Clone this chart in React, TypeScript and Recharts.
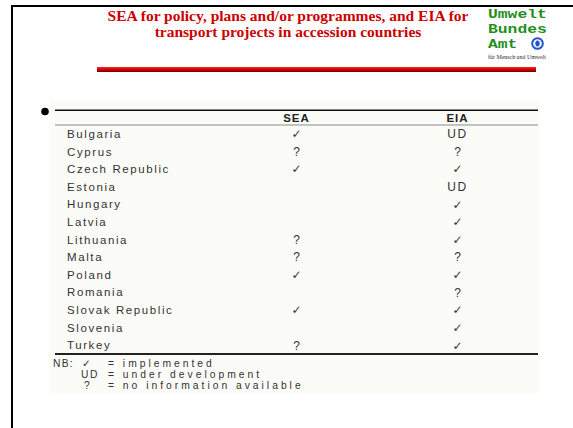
import React from "react";
import { ScatterChart, Scatter, XAxis, YAxis } from "recharts";

const titleLines = [
  "SEA for policy, plans and/or programmes, and EIA for",
  "transport projects in accession countries",
];
const logoLines = ["Umwelt", "Bundes", "Amt"];
const logoTagline = "für Mensch und Umwelt";

const columns = ["", "SEA", "EIA"];
const countries = [
  "Bulgaria",
  "Cyprus",
  "Czech Republic",
  "Estonia",
  "Hungary",
  "Latvia",
  "Lithuania",
  "Malta",
  "Poland",
  "Romania",
  "Slovak Republic",
  "Slovenia",
  "Turkey",
];
const seaStatus = ["✓", "?", "✓", "", "", "", "?", "?", "✓", "", "✓", "", "?"];
const eiaStatus = ["UD", "?", "✓", "UD", "✓", "✓", "✓", "?", "✓", "?", "✓", "✓", "✓"];

const legendSymbols = ["✓", "UD", "?"];
const legendMeanings = ["= implemented", "= under development", "= no information available"];

const SANS = '"Liberation Sans", Arial, sans-serif';
const TEXT = "#333";

const toPoints = (status: string[], col: number) =>
  status.map((mark, row) => ({ col, row, mark })).filter((p) => p.mark !== "");

const seaPoints = toPoints(seaStatus, 1);
const eiaPoints = toPoints(eiaStatus, 2);

function MarkShape(props: any) {
  const { cx, cy, payload } = props;
  const isCheck = payload.mark === "✓";
  return (
    <text
      x={cx}
      y={cy}
      dy="0.36em"
      textAnchor="middle"
      fontFamily={isCheck ? '"DejaVu Sans", sans-serif' : SANS}
      fontSize={12}
      fill={TEXT}
      letterSpacing={payload.mark === "UD" ? 1.5 : 0}
    >
      {payload.mark}
    </text>
  );
}

function Backdrop() {
  return (
    <svg width={573} height={428} style={{ position: "absolute", left: 0, top: 0 }}>
      <defs>
        <linearGradient id="redbar" x1="0" y1="0" x2="0" y2="1">
          <stop offset="0" stopColor="#ff2a2a" />
          <stop offset="0.5" stopColor="#d40000" />
          <stop offset="1" stopColor="#6e0000" />
        </linearGradient>
      </defs>
      <rect x={50} y={100} width={490} height={293} fill="#fbfcf8" />
      {/* slide frame */}
      <rect x={11} y={5} width={562} height={2} fill="#000" />
      <rect x={11} y={5} width={2} height={423} fill="#000" />

      {titleLines.map((t, i) => (
        <text
          key={t}
          x={288}
          y={21 + i * 16}
          textAnchor="middle"
          fontFamily='"Liberation Serif", "Times New Roman", serif'
          fontWeight={700}
          fontSize={15.5}
          fill="#cc0000"
        >
          {t}
        </text>
      ))}

      {logoLines.map((t, i) => (
        <text
          key={t}
          x={488}
          y={18 + i * 15.2}
          fontFamily='"Liberation Mono", "Courier New", monospace'
          fontSize={13.5}
          fontWeight={700}
          fill="#1f8f1f"
          textLength={t.length * 9.8}
          lengthAdjust="spacingAndGlyphs"
        >
          {t}
        </text>
      ))}
      <circle cx={537.5} cy={43.5} r={6.3} fill="#2255cc" />
      <circle cx={537.5} cy={43.5} r={4.3} fill="#fff" />
      <ellipse cx={537.5} cy={43.5} rx={2.2} ry={3} fill="#2255cc" />
      <text
        x={488}
        y={58.5}
        fontFamily='"Liberation Serif", serif'
        fontSize={5.3}
        fill="#333"
        textLength={58}
        lengthAdjust="spacingAndGlyphs"
      >
        {logoTagline}
      </text>

      <rect x={97} y={67} width={439} height={5} fill="url(#redbar)" />

      <circle cx={45} cy={111.5} r={3.8} fill="#000" />
      <rect x={55} y={109.5} width={483} height={1.5} fill="#111" />
      <rect x={55} y={353} width={483} height={2} fill="#222" />

      <text x={53} y={366.5} fontFamily={SANS} fontSize={10.3} fill={TEXT} letterSpacing={1.2}>
        NB:
      </text>
      {legendSymbols.map((s, i) => (
        <text
          key={s}
          x={s === "✓" ? 82 : s === "?" ? 84 : 81}
          y={366.5 + i * 11.3}
          fontFamily={s === "✓" ? '"DejaVu Sans", sans-serif' : SANS}
          fontSize={10.3}
          fill={TEXT}
          letterSpacing={s === "UD" ? 1.5 : 0}
        >
          {s}
        </text>
      ))}
      {legendMeanings.map((m, i) => (
        <text key={m} x={108} y={366.5 + i * 11.3} fontFamily={SANS} fontSize={10.3} fill={TEXT} letterSpacing={3}>
          {m}
        </text>
      ))}
    </svg>
  );
}

export default function App() {
  return (
    <div style={{ position: "absolute", left: 0, top: 0, width: 573, height: 428, background: "#fff" }}>
      <Backdrop />
      <div style={{ position: "absolute", left: 0, top: 0 }}>
        <ScatterChart width={573} height={428} margin={{ top: 110, right: 35, bottom: 74, left: 55 }}>
          <XAxis
            type="number"
            dataKey="col"
            orientation="top"
            height={15}
            domain={[-0.5, 2.5]}
            ticks={[1, 2]}
            tickFormatter={(v: number) => columns[v]}
            interval={0}
            tickSize={0}
            tickMargin={3}
            axisLine={{ stroke: "#8a8a8a", strokeWidth: 1 }}
            tick={{ fill: "#222", fontSize: 11.5, fontWeight: 700, fontFamily: SANS, letterSpacing: 1 }}
          />
          <YAxis
            type="number"
            dataKey="row"
            domain={[-0.5, 12.5]}
            reversed
            ticks={countries.map((_, i) => i)}
            tickFormatter={(v: number) => countries[v]}
            interval={0}
            mirror
            width={220}
            tickSize={0}
            tickMargin={12}
            axisLine={false}
            tick={{ fill: TEXT, fontSize: 11.5, fontFamily: SANS, letterSpacing: 1.6 }}
          />
          <Scatter data={seaPoints} shape={MarkShape} isAnimationActive={false} />
          <Scatter data={eiaPoints} shape={MarkShape} isAnimationActive={false} />
        </ScatterChart>
      </div>
    </div>
  );
}
